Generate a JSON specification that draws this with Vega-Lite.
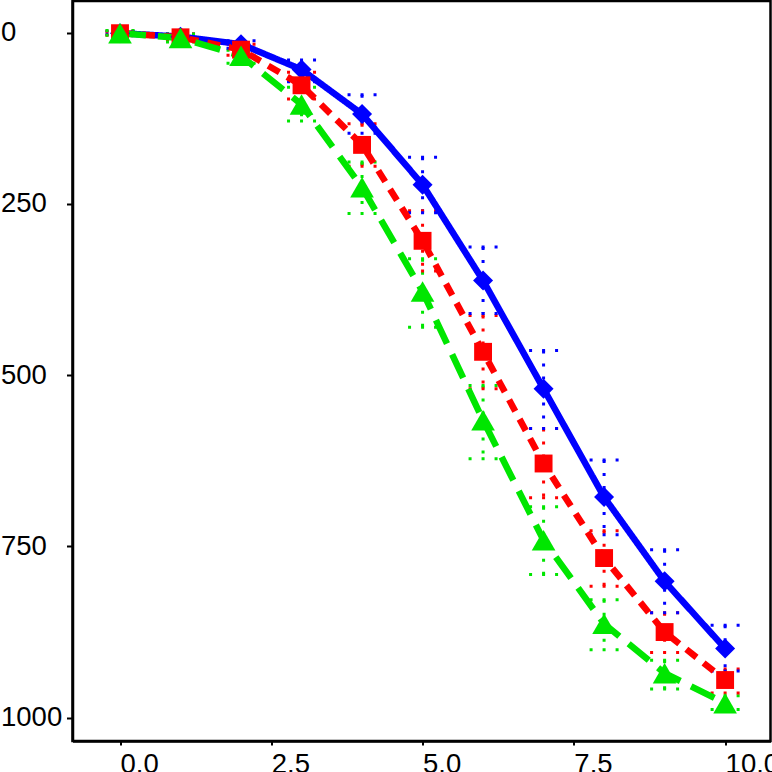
{
  "$schema": "https://vega.github.io/schema/vega-lite/v6.json",
  "autosize": {"type": "none"},
  "width": 698,
  "height": 740,
  "padding": {"left": 72.5, "top": 1, "right": 1.5, "bottom": 31},
  "background": "white",
  "data": {
    "values": [
      {"x": 0, "y": 1, "lo": -2, "hi": 3, "s": "A"},
      {"x": 1, "y": 6, "lo": 2, "hi": 10, "s": "A"},
      {"x": 2, "y": 17, "lo": 12, "hi": 23, "s": "A"},
      {"x": 3, "y": 54, "lo": 40, "hi": 72, "s": "A"},
      {"x": 4, "y": 119, "lo": 91, "hi": 147, "s": "A"},
      {"x": 5, "y": 222, "lo": 182, "hi": 263, "s": "A"},
      {"x": 6, "y": 362, "lo": 313, "hi": 410, "s": "A"},
      {"x": 7, "y": 520, "lo": 464, "hi": 578, "s": "A"},
      {"x": 8, "y": 678, "lo": 624, "hi": 733, "s": "A"},
      {"x": 9, "y": 801, "lo": 755, "hi": 847, "s": "A"},
      {"x": 10, "y": 899, "lo": 865, "hi": 932, "s": "A"},
      {"x": 0, "y": 1, "lo": -2, "hi": 4, "s": "B"},
      {"x": 1, "y": 7, "lo": 2, "hi": 12, "s": "B"},
      {"x": 2, "y": 25, "lo": 17, "hi": 33, "s": "B"},
      {"x": 3, "y": 77, "lo": 58, "hi": 97, "s": "B"},
      {"x": 4, "y": 164, "lo": 133, "hi": 195, "s": "B"},
      {"x": 5, "y": 304, "lo": 260, "hi": 348, "s": "B"},
      {"x": 6, "y": 466, "lo": 413, "hi": 520, "s": "B"},
      {"x": 7, "y": 629, "lo": 578, "hi": 679, "s": "B"},
      {"x": 8, "y": 767, "lo": 727, "hi": 808, "s": "B"},
      {"x": 9, "y": 875, "lo": 847, "hi": 905, "s": "B"},
      {"x": 10, "y": 945, "lo": 929, "hi": 964, "s": "B"},
      {"x": 0, "y": 1, "lo": -3, "hi": 4, "s": "C"},
      {"x": 1, "y": 8, "lo": 2, "hi": 14, "s": "C"},
      {"x": 2, "y": 34, "lo": 26, "hi": 45, "s": "C"},
      {"x": 3, "y": 105, "lo": 80, "hi": 129, "s": "C"},
      {"x": 4, "y": 226, "lo": 189, "hi": 264, "s": "C"},
      {"x": 5, "y": 378, "lo": 330, "hi": 430, "s": "C"},
      {"x": 6, "y": 566, "lo": 515, "hi": 622, "s": "C"},
      {"x": 7, "y": 741, "lo": 692, "hi": 791, "s": "C"},
      {"x": 8, "y": 863, "lo": 828, "hi": 901, "s": "C"},
      {"x": 9, "y": 935, "lo": 916, "hi": 958, "s": "C"},
      {"x": 10, "y": 979, "lo": 968, "hi": 988, "s": "C"}
    ]
  },
  "encoding": {
    "x": {
      "field": "x",
      "type": "quantitative",
      "scale": {"domain": [-0.785, 10.75], "nice": false, "zero": false},
      "axis": {"values": [0, 2.5, 5, 7.5, 10], "format": ".1f"}
    },
    "color": {
      "field": "s",
      "type": "nominal",
      "scale": {"domain": ["A", "B", "C"], "range": ["#0000FF", "#FF0000", "#00E600"]},
      "legend": null
    }
  },
  "layer": [
    {
      "mark": {"type": "rule", "strokeWidth": 3, "strokeDash": [3, 10]},
      "encoding": {
        "y": {
          "field": "lo",
          "type": "quantitative",
          "scale": {"domain": [-46, 1034], "reverse": true, "nice": false, "zero": false},
          "axis": {"values": [0, 250, 500, 750, 1000], "format": "d"}
        },
        "y2": {"field": "hi"}
      }
    },
    {
      "mark": {"type": "point", "shape": "M-1,0L1,0", "size": 841, "filled": false, "strokeWidth": 3, "strokeDash": [3, 10], "opacity": 1},
      "encoding": {
        "y": {"field": "lo", "type": "quantitative"},
        "stroke": {"field": "s", "type": "nominal", "scale": {"domain": ["A", "B", "C"], "range": ["#0000FF", "#FF0000", "#00E600"]}, "legend": null}
      }
    },
    {
      "mark": {"type": "point", "shape": "M-1,0L1,0", "size": 841, "filled": false, "strokeWidth": 3, "strokeDash": [3, 10], "opacity": 1},
      "encoding": {
        "y": {"field": "hi", "type": "quantitative"},
        "stroke": {"field": "s", "type": "nominal", "scale": {"domain": ["A", "B", "C"], "range": ["#0000FF", "#FF0000", "#00E600"]}, "legend": null}
      }
    },
    {
      "mark": {"type": "line", "strokeWidth": 6.5},
      "encoding": {
        "y": {"field": "y", "type": "quantitative"},
        "strokeDash": {
          "field": "s",
          "type": "nominal",
          "scale": {"domain": ["A", "B", "C"], "range": [[1, 0], [13, 9], [26, 12]]},
          "legend": null
        },
        "order": {"field": "x"}
      }
    },
    {
      "transform": [{"filter": "datum.s == 'A'"}],
      "mark": {"type": "point", "shape": "diamond", "size": 400, "filled": true, "opacity": 1},
      "encoding": {"y": {"field": "y", "type": "quantitative"}}
    },
    {
      "transform": [{"filter": "datum.s == 'B'"}],
      "mark": {"type": "point", "shape": "square", "size": 320, "filled": true, "opacity": 1},
      "encoding": {"y": {"field": "y", "type": "quantitative"}}
    },
    {
      "transform": [{"filter": "datum.s == 'C'"}],
      "mark": {"type": "point", "shape": "triangle-up", "size": 560, "filled": true, "opacity": 1},
      "encoding": {"y": {"field": "y", "type": "quantitative"}}
    }
  ],
  "config": {
    "font": "Liberation Sans",
    "view": {"stroke": "black", "strokeWidth": 2.5},
    "axis": {
      "title": null,
      "grid": false,
      "domainColor": "black",
      "domainWidth": 2.5,
      "tickColor": "black",
      "tickWidth": 2,
      "labelColor": "black",
      "labelFont": "Liberation Sans",
      "labelFontSize": 27.5,
      "labelOverlap": false,
      "labelFlush": false,
      "labelBound": false
    },
    "axisX": {"tickSize": 4, "labelAlign": "left", "labelBaseline": "alphabetic", "labelPadding": 27.5},
    "axisY": {"tickSize": 6, "labelAlign": "left", "labelPadding": 66, "labelBaseline": "middle", "labelDy": 1}
  }
}
